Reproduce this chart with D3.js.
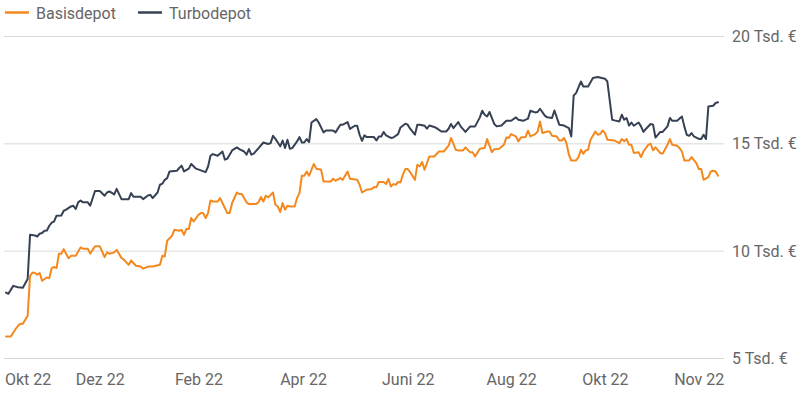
<!DOCTYPE html>
<html><head><meta charset="utf-8">
<script src="https://cdn.jsdelivr.net/npm/d3@7"></script>
<style>
html,body{margin:0;padding:0;background:#fff;}
svg text{font-family:Roboto,"Noto Sans",sans-serif;}
</style></head>
<body><svg id="c" width="800" height="396"></svg>
<script>
// Series names & colours
const seriesNames = ["Basisdepot", "Turbodepot"];
const seriesColors = ["#f3891e", "#364153"];
// [trading day index, value in Tsd. €]
const basisdepot = [[0,6.00],[2,6.00],[4,6.35],[5,6.50],[6,6.59],[7,6.59],[8,6.78],[9,6.97],[10,8.83],[11,8.98],[12,8.96],[13,8.88],[14,8.96],[15,8.60],[17,8.75],[18,8.72],[19,9.19],[20,9.24],[21,9.19],[22,9.86],[23,9.86],[24,10.07],[26,9.64],[27,9.76],[29,9.76],[31,10.15],[32,10.09],[34,10.09],[35,9.86],[37,10.20],[39,10.20],[41,9.70],[42,9.92],[43,9.86],[45,9.92],[46,10.04],[48,9.66],[49,9.58],[51,9.34],[52,9.54],[54,9.30],[56,9.26],[57,9.16],[59,9.26],[61,9.26],[64,9.34],[65,9.76],[66,9.73],[67,10.46],[69,10.69],[70,10.97],[72,10.93],[73,10.97],[74,10.74],[75,11.01],[76,11.01],[77,11.52],[78,11.36],[80,11.67],[81,11.75],[82,11.75],[83,11.52],[84,11.75],[85,12.34],[86,12.29],[88,12.29],[89,12.45],[90,12.22],[92,11.75],[93,11.75],[94,12.22],[96,12.71],[97,12.64],[98,12.64],[100,12.25],[101,12.17],[104,12.17],[105,12.26],[106,12.50],[107,12.29],[108,12.56],[109,12.48],[110,12.60],[111,12.71],[112,12.14],[113,12.06],[114,11.80],[115,12.22],[116,11.91],[117,12.09],[118,12.06],[120,12.06],[121,12.45],[122,12.68],[123,13.49],[124,13.49],[125,13.69],[126,13.49],[127,13.77],[128,14.04],[129,13.82],[131,13.77],[132,13.22],[135,13.22],[136,13.35],[137,13.26],[139,13.38],[140,13.30],[142,13.69],[143,13.35],[146,13.30],[147,13.07],[148,12.71],[150,12.84],[152,12.87],[153,12.96],[154,12.96],[155,13.20],[157,13.20],[158,13.10],[159,13.34],[160,12.99],[161,13.10],[162,13.07],[163,13.20],[164,13.18],[165,13.54],[166,13.80],[167,13.80],[168,13.66],[170,13.30],[171,14.00],[172,13.92],[173,14.13],[174,13.77],[176,14.39],[178,14.39],[180,14.62],[182,14.62],[184,14.89],[185,15.25],[187,14.70],[188,14.67],[190,14.67],[191,14.81],[193,14.58],[194,14.58],[195,14.39],[197,14.75],[199,14.78],[200,15.20],[202,14.59],[203,14.73],[205,14.75],[207,14.93],[208,15.27],[209,15.25],[210,15.43],[212,15.32],[213,15.09],[214,15.27],[216,15.29],[217,15.59],[218,15.32],[220,15.43],[221,15.55],[222,16.02],[223,15.48],[225,15.55],[226,15.55],[227,15.35],[229,15.32],[230,15.13],[231,15.13],[232,15.25],[233,15.01],[234,14.47],[235,14.20],[237,14.20],[238,14.36],[239,14.70],[240,14.52],[241,14.67],[242,14.70],[243,15.17],[245,15.55],[246,15.40],[247,15.43],[248,15.60],[249,15.48],[250,15.17],[253,15.13],[255,15.01],[256,15.20],[257,15.09],[258,15.20],[259,14.93],[260,14.93],[261,14.55],[263,14.58],[264,14.36],[265,14.62],[267,14.93],[268,14.98],[269,14.67],[270,14.81],[272,14.55],[273,14.52],[275,14.93],[276,15.20],[277,14.93],[279,14.89],[280,14.78],[281,14.62],[282,14.20],[284,14.20],[285,14.36],[287,14.08],[288,13.80],[289,13.80],[290,13.30],[292,13.43],[293,13.69],[294,13.72],[295,13.69],[296,13.49]];
const turbodepot = [[0,8.05],[1,7.99],[3,8.36],[5,8.30],[7,8.27],[9,8.68],[10,10.74],[12,10.71],[13,10.66],[14,10.79],[15,10.82],[16,10.93],[17,10.94],[18,11.16],[19,11.31],[20,11.36],[21,11.63],[23,11.64],[24,11.86],[25,11.91],[27,12.06],[28,12.09],[29,11.94],[30,12.25],[31,12.34],[32,12.25],[34,12.25],[35,12.09],[37,12.78],[39,12.78],[41,12.56],[42,12.71],[43,12.76],[45,12.62],[46,12.88],[48,12.40],[51,12.40],[52,12.68],[53,12.51],[56,12.51],[57,12.40],[59,12.57],[60,12.60],[61,12.45],[63,12.71],[64,13.07],[65,13.12],[66,13.30],[67,13.38],[68,13.69],[71,13.72],[72,13.85],[73,13.96],[74,13.69],[76,13.82],[77,14.04],[79,13.82],[81,13.74],[83,13.66],[84,13.92],[85,14.42],[86,14.50],[88,14.42],[90,14.62],[91,14.24],[92,14.28],[94,14.67],[96,14.81],[97,14.73],[99,14.62],[100,14.47],[101,14.73],[102,14.47],[103,14.52],[105,14.78],[107,15.04],[109,14.97],[110,15.01],[111,15.35],[112,15.21],[113,15.04],[114,14.86],[115,15.13],[116,14.78],[117,15.17],[118,14.75],[119,14.78],[121,15.09],[122,15.29],[123,15.04],[124,15.04],[125,15.20],[126,15.06],[127,15.97],[129,16.13],[130,15.97],[132,15.51],[133,15.60],[136,15.60],[137,15.51],[139,15.87],[140,15.87],[142,15.99],[143,15.67],[145,15.82],[146,15.82],[147,15.40],[148,15.12],[149,15.37],[150,15.29],[153,15.29],[154,15.13],[155,15.32],[156,15.32],[157,15.53],[158,15.37],[160,15.25],[161,15.27],[163,15.43],[164,15.74],[166,15.91],[167,15.87],[168,15.68],[170,15.40],[171,15.87],[172,15.87],[174,15.82],[175,15.68],[176,15.83],[178,15.76],[179,15.71],[181,15.55],[183,15.55],[184,15.68],[185,15.90],[186,15.71],[188,15.99],[189,15.79],[191,15.53],[193,15.79],[195,15.79],[197,16.21],[198,16.52],[199,16.33],[200,16.25],[201,16.46],[203,15.90],[204,15.79],[206,15.83],[208,16.05],[210,16.05],[212,16.21],[213,16.10],[215,16.05],[217,16.15],[218,16.52],[220,16.44],[221,16.46],[222,16.61],[224,16.29],[225,16.21],[227,16.18],[228,16.53],[230,15.87],[232,15.83],[234,15.71],[235,15.32],[236,17.23],[237,17.34],[239,17.88],[240,17.65],[242,17.65],[244,18.04],[246,18.09],[249,18.01],[250,17.88],[252,16.10],[253,16.07],[255,16.02],[256,16.33],[257,16.10],[258,16.18],[259,15.83],[260,15.97],[261,15.82],[263,15.97],[264,15.79],[265,15.53],[266,15.67],[268,15.90],[269,15.87],[270,15.27],[272,15.53],[273,15.53],[275,15.79],[276,16.18],[277,16.05],[279,16.05],[281,16.25],[282,15.79],[283,15.40],[284,15.35],[285,15.48],[286,15.32],[288,15.21],[289,15.20],[290,15.40],[291,15.20],[292,16.72],[294,16.75],[295,16.88],[296,16.91]];
// x tick labels and their trading-day index
const xTickDays = [9, 39, 80, 123.5, 167, 210, 249, 288];
const xTickLabels = ["Okt 22", "Dez 22", "Feb 22", "Apr 22", "Juni 22", "Aug 22", "Okt 22", "Nov 22"];
// y ticks (Tsd. €)
const yTicks = [5, 10, 15, 20];
const yTickLabels = ["5 Tsd. €", "10 Tsd. €", "15 Tsd. €", "20 Tsd. €"];

const svg = d3.select("#c");
const x = d3.scaleLinear().domain([0, 296]).range([6, 718]);
const y = d3.scaleLinear().domain([5, 20]).range([358, 36]);

// grid
const yAxis = d3.axisRight(y).tickValues(yTicks).tickSize(720)
  .tickFormat((d, i) => yTickLabels[i]);
const gy = svg.append("g").attr("transform", "translate(4,0)").call(yAxis);
gy.select(".domain").remove();
gy.selectAll(".tick line").attr("stroke", "#d9d9d9").attr("stroke-width", 1);
gy.selectAll(".tick text").attr("x", 728).attr("dy", "0.34em")
  .attr("fill", "#666").attr("font-size", 16).attr("text-anchor", "start");

// x labels
const xAxis = d3.axisBottom(x).tickValues(xTickDays).tickSize(0)
  .tickFormat((d, i) => xTickLabels[i]);
const gx = svg.append("g").attr("transform", "translate(0,372)").call(xAxis);
gx.select(".domain").remove();
gx.selectAll(".tick text").attr("fill", "#666").attr("font-size", 16).attr("dy", "0.71em").attr("y", 2);

// lines
const line = d3.line().x(d => x(d[0])).y(d => y(d[1]));
[basisdepot, turbodepot].forEach((s, i) => {
  svg.append("path").datum(s).attr("d", line).attr("fill", "none")
    .attr("stroke", seriesColors[i]).attr("stroke-width", 2)
    .attr("stroke-linejoin", "round").attr("stroke-linecap", "round");
});

// legend
const legX = [5, 138];
seriesNames.forEach((n, i) => {
  const g = svg.append("g").attr("transform", `translate(${legX[i]},0)`);
  g.append("line").attr("x1", 0).attr("x2", 24).attr("y1", 12.5).attr("y2", 12.5)
    .attr("stroke", seriesColors[i]).attr("stroke-width", 2.5);
  g.append("text").attr("x", 31).attr("y", 18.5).attr("font-size", 16).attr("fill", "#666").text(n);
});
</script></body></html>
